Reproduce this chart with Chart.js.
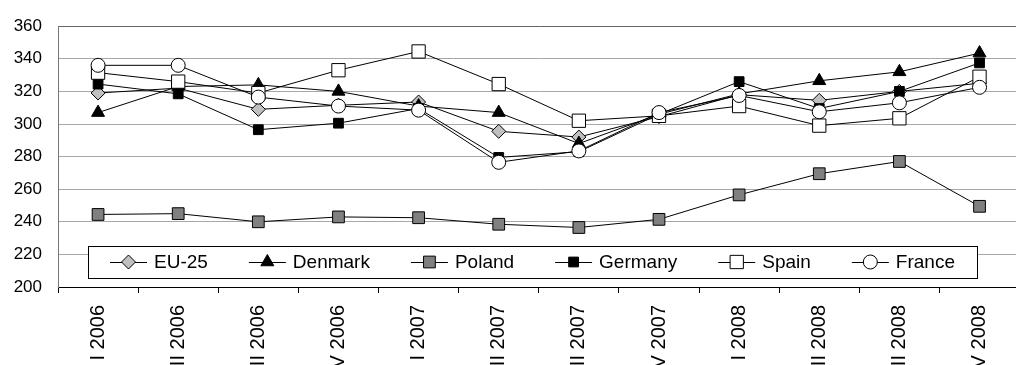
<!DOCTYPE html>
<html lang="en">
<head>
    <meta charset="UTF-8">
    <title>Quarterly chart</title>
    <script src="https://cdn.jsdelivr.net/npm/chart.js"></script>
    <style>
        * {
            margin: 0;
            padding: 0;
            box-sizing: border-box;
        }
        body {
            background: white;
            overflow: hidden;
        }
        .frame {
            position: absolute;
            left: 0;
            top: 0;
            width: 1016px;
            height: 365px;
            overflow: hidden;
        }
    </style>
</head>
<body>
    <div class="frame">
        <canvas id="chart" width="1030" height="400"></canvas>
    </div>

    <script>
        const quarters = ["I 2006", "II 2006", "III 2006", "IV 2006", "I 2007", "II 2007", "III 2007", "IV 2007",
                          "I 2008", "II 2008", "III 2008", "IV 2008"];
        const eu25 = [319, 322, 309, 311.5, 313.5, 295.5, 292, 304.5, 318, 314.5, 320, 325];
        const denmark = [307, 323, 324, 320, 311, 307, 288, 306, 318.5, 326.5, 332, 343.5];
        const poland = [244.5, 245, 240, 243, 242.5, 238.5, 236.5, 241.5, 256.5, 269.5, 277, 249.5];
        const germany = [324.5, 318.5, 296.5, 300.5, 309.5, 279.5, 283, 306, 326, 309.5, 320, 337.5];
        const spain = [331.5, 326, 319, 333, 344.5, 324.5, 302, 305, 311, 299, 303.5, 329];
        const france = [336, 336, 316.5, 311, 308.5, 276.5, 283.5, 307, 317.5, 307.5, 313, 322.5];

        const FONT = '"Liberation Sans", Arial, sans-serif';

        function series(label, data, style, radius, fill, order) {
            return {
                label: label,
                data: data,
                borderColor: "#000",
                borderWidth: 1,
                pointStyle: style,
                pointRadius: radius,
                pointHoverRadius: radius,
                pointBackgroundColor: fill,
                pointBorderColor: "#000",
                pointBorderWidth: 1,
                fill: false,
                tension: 0,
                order: order
            };
        }

        // legend sits inside the plot, above the x axis
        const legendBox = {
            id: "legendBox",
            afterDraw(chart) {
                const ctx = chart.ctx;
                const area = chart.chartArea;
                const sets = chart.data.datasets;
                const lineLen = 37, gapText = 7, gapItem = 41, pad = 22, h = 32;
                ctx.save();
                ctx.font = "19px " + FONT;
                let total = 0;
                sets.forEach((d, i) => {
                    total += lineLen + gapText + ctx.measureText(d.label).width;
                    if (i < sets.length - 1) total += gapItem;
                });
                const left = area.left + 30;
                const top = area.bottom - 41;
                const w = Math.round(total + 2 * pad);
                ctx.fillStyle = "#fff";
                ctx.fillRect(left, top, w, h);
                ctx.strokeStyle = "#000";
                ctx.lineWidth = 1;
                ctx.strokeRect(left + 0.5, top + 0.5, w, h);

                let x = left + pad;
                const cy = top + h / 2;
                sets.forEach(d => {
                    ctx.strokeStyle = "#000";
                    ctx.beginPath();
                    ctx.moveTo(x, cy + 0.5);
                    ctx.lineTo(x + lineLen, cy + 0.5);
                    ctx.stroke();
                    ctx.fillStyle = d.pointBackgroundColor;
                    Chart.helpers.drawPoint(ctx, {
                        pointStyle: d.pointStyle,
                        radius: d.pointRadius,
                        rotation: 0,
                        borderWidth: 1
                    }, x + lineLen / 2, cy);
                    ctx.fillStyle = "#000";
                    ctx.textAlign = "left";
                    ctx.textBaseline = "middle";
                    ctx.fillText(d.label, x + lineLen + gapText, cy + 1);
                    x += lineLen + gapText + ctx.measureText(d.label).width + gapItem;
                });
                ctx.restore();
            }
        };

        const chart = new Chart(document.getElementById("chart").getContext("2d"), {
            type: "line",
            data: {
                labels: quarters,
                datasets: [
                    series("EU-25", eu25, "rectRot", 7, "#c0c0c0", 5),
                    series("Denmark", denmark, "triangle", 7.5, "#000", 4),
                    series("Poland", poland, "rect", 8.3, "#808080", 3),
                    series("Germany", germany, "rect", 6.9, "#000", 2),
                    series("Spain", spain, "rect", 9.4, "#fff", 1),
                    series("France", france, "circle", 7, "#fff", 0)
                ]
            },
            plugins: [legendBox],
            options: {
                responsive: false,
                animation: false,
                devicePixelRatio: 1,
                layout: { padding: { top: 23, right: 0, left: 0, bottom: 0 } },
                plugins: {
                    legend: { display: false },
                    tooltip: { enabled: false }
                },
                scales: {
                    x: {
                        offset: true,
                        grid: {
                            offset: true,
                            drawOnChartArea: false,
                            drawTicks: true,
                            tickLength: 6,
                            color: "#000"
                        },
                        border: { color: "#000", width: 1 },
                        ticks: {
                            color: "#000",
                            font: { family: FONT, size: 20 },
                            minRotation: 90,
                            maxRotation: 90,
                            padding: 12,
                            autoSkip: false
                        },
                        afterFit: s => { s.height = 113; }
                    },
                    y: {
                        min: 200,
                        max: 360,
                        grid: {
                            drawTicks: false,
                            color: c => c.tick.value === 360 ? "#666" : (c.tick.value === 200 ? "#000" : "#a8a8a8"),
                            lineWidth: 1
                        },
                        border: { color: "#777", width: 1 },
                        ticks: {
                            stepSize: 20,
                            color: "#000",
                            padding: 16,
                            font: { family: FONT, size: 17 }
                        },
                        afterFit: s => { s.width = 58; }
                    }
                }
            }
        });
    </script>
</body>
</html>
